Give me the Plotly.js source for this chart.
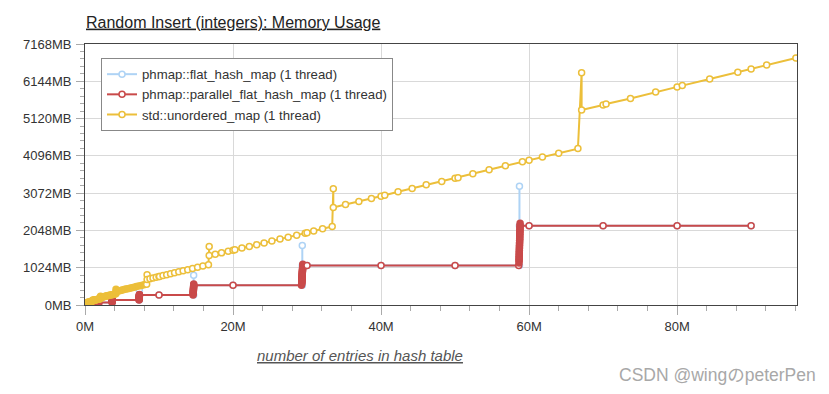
<!DOCTYPE html>
<html>
<head>
<meta charset="utf-8">
<script src="https://cdn.plot.ly/plotly-3.0.1.min.js"></script>
<style>html,body{margin:0;padding:0;background:#fff;}#chart{width:829px;height:394px;}</style>
</head>
<body>
<div id="chart"></div>
<script>
// Series names
const seriesNames = ["phmap::flat_hash_map (1 thread)", "phmap::parallel_flat_hash_map (1 thread)", "std::unordered_map (1 thread)"];

// phmap::flat_hash_map (entries in millions, memory in MB)
const flatX = [0, 0.459, 0.459, 0.459, 0.917, 0.917, 0.917, 1.835, 1.835, 1.835, 3.67, 3.67, 3.67, 7.34, 7.34, 7.34, 10, 14.68, 14.68, 14.68, 20, 29.36, 29.36, 29.36, 30, 40, 50, 58.7, 58.7, 58.7, 60, 70, 80, 90];
const flatY = [0, 8, 25, 17, 17, 51, 34, 34, 102, 68, 68, 204, 136, 136, 408, 272, 272, 272, 816, 544, 544, 544, 1632, 1088, 1088, 1088, 1088, 1088, 3264, 2176, 2176, 2176, 2176, 2176];

// phmap::parallel_flat_hash_map
const parX = [0, 0.05, 0.455, 0.459, 0.46, 0.915, 0.917, 0.92, 1.83, 1.833, 1.834, 1.837, 1.838,
  3.66, 3.662, 3.663, 3.666, 3.667, 3.67, 3.671, 3.674, 3.675,
  7.3, 7.32, 7.32, 7.325, 7.325, 7.33, 7.33, 7.335, 7.335, 7.34, 7.34, 7.345, 7.345, 7.35, 7.35, 7.355, 7.355,
  10, 14.6, 14.62, 14.62, 14.63, 14.63, 14.64, 14.64, 14.65, 14.65, 14.66, 14.66, 14.67, 14.67, 14.68, 14.68, 14.69, 14.69,
  20, 29.25, 29.28, 29.28, 29.29, 29.29, 29.3, 29.3, 29.31, 29.31, 29.32, 29.32, 29.33, 29.33, 29.34, 29.34, 29.35, 29.35,
  29.36, 29.36, 29.37, 29.37, 29.38, 29.38, 29.39, 29.39, 29.4, 29.4, 29.41, 29.41, 29.42, 29.42, 29.43, 29.43,
  30, 40, 50, 58.6, 58.64, 58.64, 58.65, 58.65, 58.66, 58.66, 58.67, 58.67, 58.68, 58.68, 58.69, 58.69, 58.7, 58.7,
  58.71, 58.71, 58.72, 58.72, 58.73, 58.73, 58.74, 58.74, 58.75, 58.75, 58.76, 58.76, 58.77, 58.77, 58.78, 58.78, 58.79, 58.79,
  60, 70, 80, 90];
const parY = [0, 8, 8, 25, 17, 17, 51, 34, 34, 68, 51, 85, 68,
  68, 102, 85, 119, 102, 136, 119, 153, 136,
  136, 170, 153, 187, 170, 204, 187, 221, 204, 238, 221, 255, 238, 272, 255, 289, 272,
  272, 272, 340, 306, 374, 340, 408, 374, 442, 408, 476, 442, 510, 476, 544, 510, 578, 544,
  544, 544, 612, 578, 646, 612, 680, 646, 714, 680, 748, 714, 782, 748, 816, 782, 850, 816,
  884, 850, 918, 884, 952, 918, 986, 952, 1020, 986, 1054, 1020, 1088, 1054, 1122, 1088,
  1088, 1088, 1088, 1088, 1224, 1156, 1292, 1224, 1360, 1292, 1428, 1360, 1496, 1428, 1564, 1496, 1632, 1564,
  1700, 1632, 1768, 1700, 1836, 1768, 1904, 1836, 1972, 1904, 2040, 1972, 2108, 2040, 2176, 2108, 2244, 2176,
  2176, 2176, 2176, 2176];

// std::unordered_map
const stdX = [0, 0.05, 0.1, 0.15, 0.2, 0.3, 0.4, 0.5, 0.6, 0.7, 0.8, 0.9, 1.0, 1.05, 1.05,
  1.1, 1.15, 1.2, 1.26, 1.32, 1.38, 1.45, 1.52, 1.59, 1.66, 1.74, 1.82, 1.9, 1.99, 2.08, 2.1, 2.1,
  2.2, 2.3, 2.41, 2.52, 2.64, 2.76, 2.89, 3.03, 3.17, 3.32, 3.47, 3.63, 3.8, 3.98, 4.17, 4.19, 4.19,
  4.39, 4.6, 4.81, 5.04, 5.27, 5.52, 5.78, 6.05, 6.33, 6.63, 6.94, 7.26, 7.6, 7.96, 8.33, 8.39, 8.39,
  8.78, 9.19, 9.62, 10.0, 10.07, 10.54, 11.04, 11.56, 12.1, 12.67, 13.26, 13.88, 14.53, 15.21, 15.93, 16.68, 16.78, 16.78,
  17.6, 18.45, 19.35, 20.0, 20.25, 21.2, 22.2, 23.2, 24.2, 25.25, 26.35, 27.45, 28.6, 29.75, 30.0, 30.9, 32.1, 33.4, 33.55, 33.55,
  35.2, 37.0, 38.7, 40.0, 40.5, 42.3, 44.2, 46.1, 48.2, 50.0, 50.4, 52.4, 54.6, 56.8, 59.1, 60.0, 61.8, 64.0, 66.6, 67.1, 67.1,
  70.0, 70.4, 73.7, 77.1, 80.0, 80.7, 84.4, 88.2, 90.0, 92.1, 96.05];
const stdY = [0, 12, 24, 36, 50, 71, 75, 80, 85, 90, 95, 100, 105, 139, 123,
  125, 128, 130, 133, 136, 139, 142, 146, 149, 153, 156, 160, 164, 169, 173, 238, 206,
  211, 216, 221, 226, 232, 238, 244, 251, 258, 265, 272, 280, 288, 297, 306, 435, 371,
  381, 391, 401, 412, 424, 436, 448, 461, 475, 490, 505, 520, 537, 554, 572, 831, 703,
  722, 742, 763, 781, 784, 807, 831, 857, 883, 910, 939, 969, 1001, 1034, 1069, 1105, 1605, 1360,
  1392, 1432, 1475, 1505, 1517, 1562, 1610, 1658, 1706, 1757, 1810, 1862, 1918, 1973, 1985, 2029, 2095, 2155, 3190, 2677,
  2759, 2841, 2924, 2989, 3016, 3108, 3199, 3300, 3391, 3478, 3497, 3603, 3713, 3823, 3935, 3975, 4065, 4170, 4295, 6380, 5354,
  5491, 5519, 5673, 5850, 5986, 6025, 6205, 6395, 6481, 6591, 6784];

const colors = ["#aed3f5", "#c94a4a", "#ecbf3a"];
const FONT = "Arial, 'Liberation Sans', sans-serif";
const X_RANGE = [0, 96.2], Y_RANGE = [0, 7168];
const PLOT_W = 712, PLOT_H = 261;

// markers packed tightly together (overlapping rings) render as a solid blob
function fills(x, y, c) {
  const px = PLOT_W / (X_RANGE[1] - X_RANGE[0]), py = PLOT_H / (Y_RANGE[1] - Y_RANGE[0]);
  return x.map((_, i) => {
    if (i === 0) return "#ffffff";
    let n = 0;
    for (let j = 0; j < x.length; j++) {
      if (j !== i && Math.hypot((x[i] - x[j]) * px, (y[i] - y[j]) * py) < 3) n++;
    }
    return n >= 2 ? c : "#ffffff";
  });
}

function mk(x, y, name, c) {
  return {
    type: "scatter", mode: "lines+markers", x: x, y: y, name: name,
    line: {color: c, width: 2},
    marker: {symbol: "circle", size: 6, color: fills(x, y, c), line: {color: c, width: 1.5}}
  };
}

const data = [
  mk(flatX, flatY, seriesNames[0], colors[0]),
  mk(parX, parY, seriesNames[1], colors[1]),
  mk(stdX, stdY, seriesNames[2], colors[2])
];

const layout = {
  width: 829, height: 394,
  margin: {l: 85, r: 32, t: 44, b: 89},
  paper_bgcolor: "#fff", plot_bgcolor: "#fff",
  font: {family: FONT, size: 13, color: "#333"},
  title: {
    text: "<u>Random Insert (integers): Memory Usage</u>",
    x: 86 / 829, xanchor: "left", xref: "container",
    y: 1 - 22 / 394, yanchor: "middle", yref: "container",
    font: {family: FONT, size: 16, color: "#222"}
  },
  showlegend: true,
  legend: {
    x: 0.0225, y: 0.946, xanchor: "left", yanchor: "top",
    bgcolor: "#fff", bordercolor: "#888", borderwidth: 1,
    entrywidth: 278, entrywidthmode: "pixels",
    font: {family: FONT, size: 13.2, color: "#333"}
  },
  xaxis: {
    range: X_RANGE, tick0: 0, dtick: 20, ticksuffix: "M",
    showgrid: true, gridcolor: "#d9d9d9", gridwidth: 1, zeroline: false,
    showline: true, linecolor: "#444", linewidth: 1, mirror: true,
    ticks: "outside", ticklen: 9, tickcolor: "#aaa",
    tickfont: {family: FONT, size: 13, color: "#333"},
    minor: {tick0: 0, dtick: 4, ticks: "outside", ticklen: 5, tickcolor: "#aaa", showgrid: false}
  },
  yaxis: {
    range: Y_RANGE, tick0: 0, dtick: 1024, ticksuffix: "MB", tickformat: "d",
    showgrid: true, gridcolor: "#d9d9d9", gridwidth: 1, zeroline: false,
    showline: true, linecolor: "#444", linewidth: 1, mirror: true,
    ticks: "outside", ticklen: 8, tickcolor: "#aaa", ticklabelstandoff: 2,
    tickfont: {family: FONT, size: 13, color: "#333"},
    minor: {tick0: 0, dtick: 204.8, ticks: "outside", ticklen: 4, tickcolor: "#aaa", showgrid: false}
  },
  annotations: [
    {
      text: "<i><u>number of entries in hash table</u></i>",
      xref: "paper", yref: "paper", x: 0.386, y: -0.195,
      xanchor: "center", yanchor: "middle", showarrow: false,
      font: {family: FONT, size: 15, color: "#555"}
    },
    {
      text: "CSDN @wingのpeterPen",
      xref: "paper", yref: "paper", x: 1.03, y: -0.268,
      xanchor: "right", yanchor: "middle", showarrow: false,
      font: {family: "Arial, 'Liberation Sans', 'Noto Sans CJK JP', sans-serif", size: 17.5, color: "#a8a8a8"}
    }
  ]
};

Plotly.newPlot("chart", data, layout, {displayModeBar: false, staticPlot: true});
</script>
</body>
</html>
